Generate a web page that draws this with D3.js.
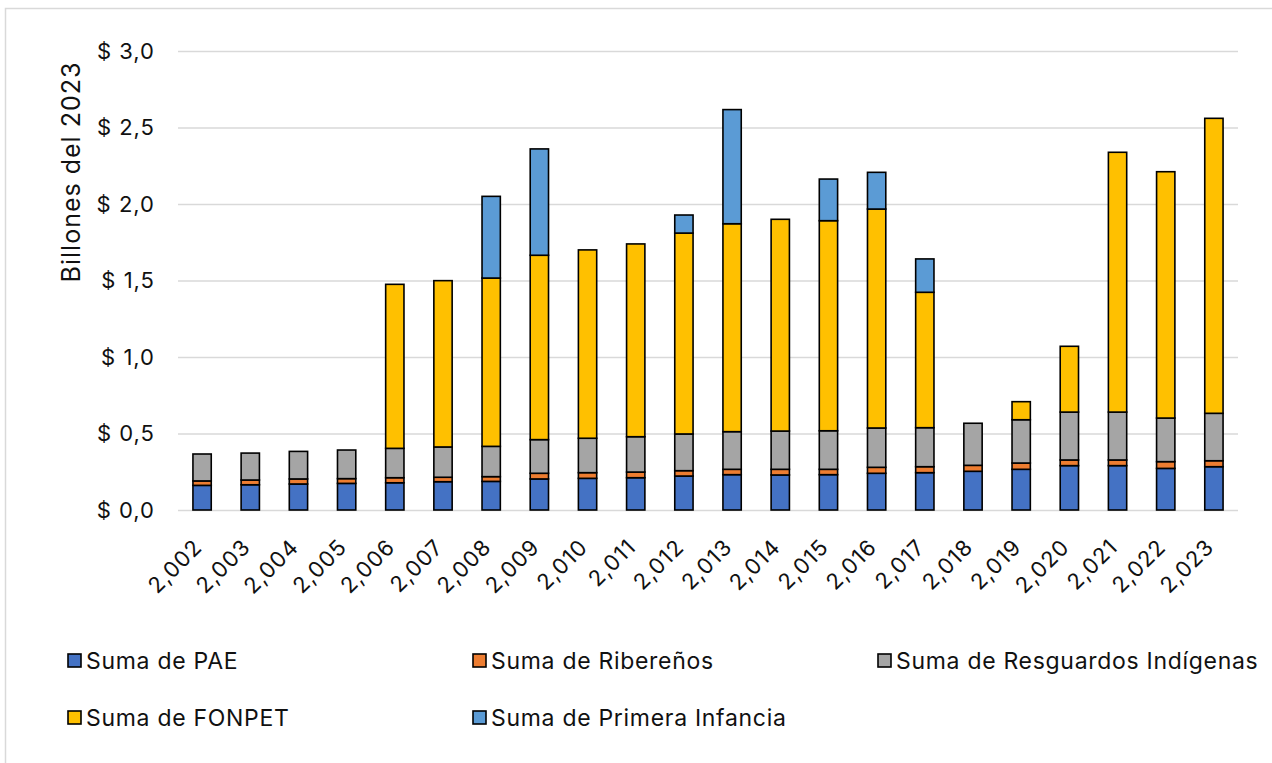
<!DOCTYPE html>
<html><head><meta charset="utf-8">
<script src="https://cdn.jsdelivr.net/npm/d3@7"></script>
<style>
html,body{margin:0;padding:0;background:#fff;}
svg{display:block;font-family:Inter, "Open Sans", sans-serif;}
</style></head>
<body>
<svg id="chart" width="1272" height="763"></svg>
<script>
const years = ["2,002","2,003","2,004","2,005","2,006","2,007","2,008","2,009","2,010","2,011","2,012","2,013","2,014","2,015","2,016","2,017","2,018","2,019","2,020","2,021","2,022","2,023"];
const seriesNames = ["Suma de PAE","Suma de Ribereños","Suma de Resguardos Indígenas","Suma de FONPET","Suma de Primera Infancia"];
const pae = [0.161,0.165,0.170,0.174,0.178,0.185,0.187,0.203,0.207,0.211,0.222,0.231,0.229,0.231,0.240,0.244,0.253,0.266,0.290,0.290,0.272,0.283];
const ribe = [0.029,0.031,0.033,0.031,0.033,0.029,0.031,0.037,0.037,0.037,0.035,0.035,0.037,0.035,0.039,0.039,0.039,0.041,0.037,0.037,0.044,0.039];
const resg = [0.176,0.176,0.180,0.187,0.192,0.198,0.198,0.220,0.225,0.231,0.240,0.246,0.250,0.252,0.257,0.255,0.275,0.283,0.313,0.313,0.285,0.310];
const fonpet = [0,0,0,0,1.072,1.087,1.100,1.205,1.231,1.260,1.313,1.359,1.384,1.373,1.431,0.885,0,0.118,0.430,1.698,1.610,1.928];
const primera = [0,0,0,0,0,0,0.534,0.695,0,0,0.118,0.746,0,0.272,0.240,0.218,0,0,0,0,0,0];
const yTicks = [0,0.5,1.0,1.5,2.0,2.5,3.0];
const colors = ["#4472C4","#ED7D31","#A5A5A5","#FFC000","#5B9BD5"];

const svg = d3.select("#chart");
const keys = ["pae","ribe","resg","fonpet","primera"];
const table = years.map((yr,i)=>({year:yr,pae:pae[i],ribe:ribe[i],resg:resg[i],fonpet:fonpet[i],primera:primera[i]}));
const stack = d3.stack().keys(keys)(table);

const pLeft=178, pRight=1238, pTop=51, pBottom=510;
const x = d3.scaleBand().domain(years).range([pLeft,pRight]).paddingInner(0.62).paddingOuter(0.31);
const y = d3.scaleLinear().domain([0,3]).range([pBottom,pTop]);

// outer border
svg.append("rect").attr("x",5.5).attr("y",8.5).attr("width",1300).attr("height",800)
  .attr("fill","#fff").attr("stroke","#d9d9d9").attr("stroke-width",1.5);

// gridlines
const yAxis = d3.axisLeft(y).tickValues(yTicks).tickSize(-(pRight-pLeft)).tickPadding(23)
  .tickFormat(d=>"$ "+d3.format(".1f")(d).replace(".",","));
const ga = svg.append("g").attr("transform",`translate(${pLeft},0)`).call(yAxis);
ga.select(".domain").remove();
ga.selectAll(".tick line").attr("stroke","#d9d9d9").attr("stroke-width",1.6);
ga.selectAll(".tick text").attr("fill","#111").style("font-size","22px").style("letter-spacing","1px")
  .style("font-family","Inter, sans-serif");

// bars
const layers = svg.append("g").selectAll("g").data(stack).join("g").attr("fill",(d,i)=>colors[i]);
layers.selectAll("rect").data(d=>d.filter(s=>s[1]-s[0]>0)).join("rect")
  .attr("x",d=>x(d.data.year)).attr("width",x.bandwidth())
  .attr("y",d=>y(d[1])).attr("height",d=>y(d[0])-y(d[1]))
  .attr("stroke","#000").attr("stroke-width",1.6);

// x axis labels
const xAxis = d3.axisBottom(x).tickSize(0).tickPadding(0);
const gx = svg.append("g").attr("transform",`translate(0,${pBottom})`).call(xAxis);
gx.select(".domain").remove();
gx.selectAll(".tick text").attr("fill","#111").style("font-size","22px").style("letter-spacing","1px")
  .style("font-family","Inter, sans-serif")
  .attr("text-anchor","end").attr("transform","translate(-4,33) rotate(-45)").attr("dy","0.35em").attr("y",0);

// y title
svg.append("text").attr("transform","translate(80,172) rotate(-90)").attr("text-anchor","middle")
  .attr("fill","#111").style("font-size","25px").style("letter-spacing","1px").text("Billones del 2023");

// legend
const legPos = [[67,661],[472,661],[877,661],[67,718],[472,718]];
const leg = svg.append("g").selectAll("g").data(seriesNames).join("g")
  .attr("transform",(d,i)=>`translate(${legPos[i][0]},${legPos[i][1]})`);
leg.append("rect").attr("x",1).attr("y",-7).attr("width",13).attr("height",13)
  .attr("fill",(d,i)=>colors[i]).attr("stroke","#000").attr("stroke-width",1.6);
leg.append("text").attr("x",19).attr("y",0).attr("dy","0.36em").attr("fill","#111")
  .style("font-size","23px").style("letter-spacing","0.7px").text(d=>d);
</script>
</body></html>
